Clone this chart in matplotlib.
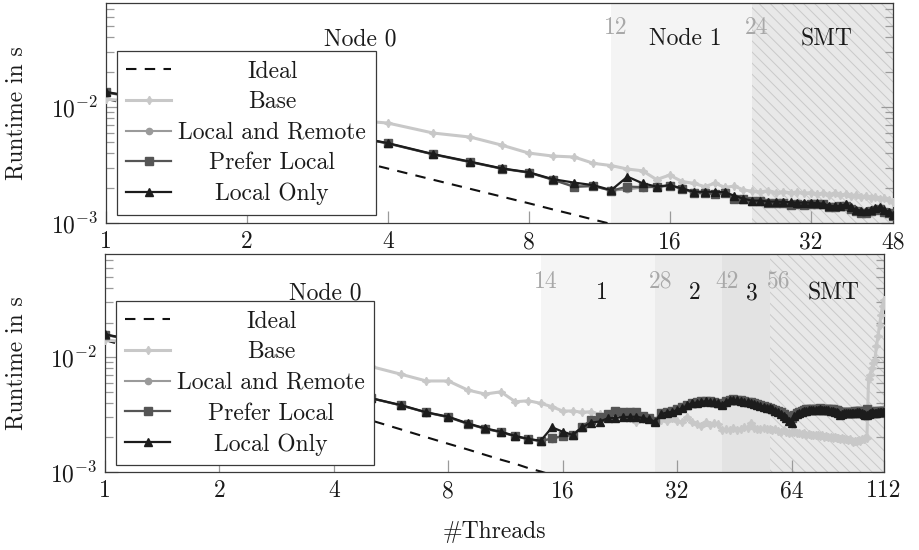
import matplotlib
matplotlib.use('Agg')
import matplotlib.pyplot as plt
from matplotlib.ticker import LogLocator, NullFormatter, NullLocator
import numpy as np

plt.rcParams['font.family'] = ['cmr10', 'DejaVu Serif']
plt.rcParams['mathtext.fontset'] = 'cm'
plt.rcParams['axes.formatter.use_mathtext'] = True
plt.rcParams['hatch.linewidth'] = 0.7
plt.rcParams['hatch.color'] = '#c8c8c8'
plt.rcParams['axes.unicode_minus'] = True

# ---------------- data (runtime in ms) ----------------
threads_top = list(range(1, 49))
threads_bottom = list(range(1, 113))

ideal_threads_top = list(range(1, 13))
ideal_top = [11.8, 5.9, 3.93, 2.95, 2.36, 1.97, 1.69, 1.48, 1.31, 1.18, 1.07, 0.98]
ideal_threads_bottom = list(range(1, 16))
ideal_bottom = [14.1, 7.05, 4.7, 3.53, 2.82, 2.35, 2.01, 1.76, 1.57, 1.41, 1.28, 1.18,
                1.08, 1.01, 0.94]

base_top = [11.7, 9.3, 8.0, 7.28, 5.97, 5.51, 4.70, 4.01, 3.78, 3.71, 3.27, 3.13,
            2.92, 2.82, 2.37, 2.59, 2.28, 2.20, 2.06, 2.20, 2.03, 2.08, 1.93, 1.88,
            1.85, 1.90, 1.83, 1.86, 1.82, 1.85, 1.80, 1.83, 1.78, 1.80, 1.76, 1.80,
            1.74, 1.77, 1.72, 1.75, 1.68, 1.72, 1.65, 1.68, 1.62, 1.63, 1.58, 1.53]
local_remote_top = [13.3, 8.3, 6.0, 4.86, 3.91, 3.36, 2.95, 2.73, 2.37, 2.08, 2.09, 1.90,
                    1.95, 2.02, 2.05, 2.10, 1.99, 1.84, 1.83, 1.80, 1.81, 1.65, 1.61, 1.55,
                    1.55, 1.52, 1.50, 1.51, 1.46, 1.48, 1.46, 1.48, 1.47, 1.46, 1.40, 1.39,
                    1.40, 1.42, 1.35, 1.28, 1.25, 1.25, 1.28, 1.32, 1.34, 1.27, 1.24, 1.17]
prefer_local_top = [13.4, 8.4, 6.1, 4.85, 3.90, 3.35, 2.94, 2.72, 2.36, 2.05, 2.08, 1.90,
                    2.06, 2.04, 2.05, 2.10, 1.98, 1.82, 1.80, 1.78, 1.80, 1.60, 1.60, 1.54,
                    1.55, 1.50, 1.48, 1.50, 1.42, 1.47, 1.43, 1.47, 1.46, 1.45, 1.38, 1.38,
                    1.39, 1.40, 1.33, 1.26, 1.22, 1.22, 1.27, 1.30, 1.32, 1.24, 1.22, 1.15]
local_only_top = [13.5, 8.4, 6.1, 4.89, 3.93, 3.38, 2.96, 2.74, 2.39, 2.23, 2.12, 1.92,
                  2.51, 2.20, 2.06, 2.12, 1.99, 1.86, 1.86, 1.86, 1.84, 1.72, 1.62, 1.56,
                  1.56, 1.53, 1.53, 1.52, 1.51, 1.50, 1.50, 1.50, 1.48, 1.47, 1.41, 1.40,
                  1.40, 1.45, 1.37, 1.30, 1.28, 1.27, 1.30, 1.34, 1.37, 1.30, 1.25, 1.17]

base_bottom = [14.1, 11.5, 10.0, 9.0, 8.3, 7.1, 6.2, 6.2, 5.17, 4.77, 4.99, 4.09, 4.17, 3.96,
               3.70, 3.39, 3.40, 3.31, 3.35, 3.17,
               3.10, 3.05, 3.13, 2.95, 2.74, 2.90, 2.87, 2.70,
               2.83, 2.78, 2.95, 2.80, 2.70, 3.00, 2.75, 2.60, 2.51, 2.70, 2.55, 2.65, 2.60, 2.32,
               2.35, 2.30, 2.40, 2.32, 2.38, 2.45, 2.40, 2.67, 2.40, 2.38, 2.35, 2.40, 2.36, 2.37,
               2.30, 2.35, 2.28, 2.25, 2.30, 2.24, 2.20, 2.25, 2.22, 2.18, 2.20, 2.15, 2.18, 2.12,
               2.15, 2.10, 2.12, 2.08, 2.10, 2.06, 2.08, 2.02, 2.05, 2.00, 2.03, 1.98, 2.00, 1.96,
               1.98, 1.94, 1.96, 1.92, 1.95, 1.90, 1.92, 1.88, 1.84, 1.88, 1.85, 1.90, 1.86, 1.92,
               1.94, 1.97,
               1.97, 6.5, 7.0, 8.0, 8.8, 9.4, 12.5, 15.2, 19.0, 23.2, 28.0, 31.3]
local_remote_bottom = [15.6, 9.9, 6.9, 5.35, 4.38, 3.80, 3.29, 3.00, 2.62, 2.38, 2.22, 2.04,
                       1.92, 1.86, 1.95, 2.04, 2.09, 2.46, 2.80, 3.00,
                       3.15, 3.35, 3.32, 3.30, 3.28, 3.08, 2.96, 2.78,
                       3.22, 3.30, 3.38, 3.50, 3.62, 3.82, 3.98, 4.06, 4.10, 4.13, 4.12, 4.08,
                       4.00, 3.90,
                       4.12, 4.22, 4.25, 4.22, 4.18, 4.12, 4.08, 4.00, 3.95, 3.88, 3.80, 3.73,
                       3.67, 3.61,
                       3.53, 3.45, 3.35, 3.27, 3.16, 3.05, 2.92, 2.85, 3.10, 3.24, 3.32, 3.38,
                       3.42, 3.46,
                       3.48, 3.50, 3.50, 3.52, 3.50, 3.54, 3.52, 3.50, 3.52, 3.50, 3.47, 3.45,
                       3.41, 3.39,
                       3.32, 3.22, 3.26, 3.30, 3.31, 3.30, 3.31, 3.30, 3.29, 3.33, 3.35, 3.37,
                       3.33, 3.30, 3.26, 3.22,
                       3.40, 3.25, 3.30, 3.34, 3.32, 3.30, 3.32, 3.34, 3.36, 3.34, 3.37, 3.38]
prefer_local_bottom = [15.7, 10.0, 7.0, 5.4, 4.4, 3.80, 3.30, 3.00, 2.63, 2.38, 2.22, 2.05,
                       1.93, 1.86, 1.96, 2.06, 2.10, 2.48, 2.83, 3.03,
                       3.18, 3.39, 3.35, 3.32, 3.30, 3.10, 2.98, 2.80,
                       3.25, 3.32, 3.40, 3.52, 3.65, 3.85, 4.00, 4.08, 4.12, 4.15, 4.14, 4.10,
                       4.02, 3.92,
                       4.15, 4.25, 4.28, 4.25, 4.20, 4.14, 4.10, 4.03, 3.97, 3.90, 3.83, 3.76,
                       3.70, 3.64,
                       3.56, 3.48, 3.38, 3.30, 3.20, 3.10, 3.00, 2.95, 3.15, 3.28, 3.35, 3.42,
                       3.46, 3.50,
                       3.52, 3.55, 3.54, 3.56, 3.55, 3.58, 3.56, 3.54, 3.56, 3.55, 3.52, 3.50,
                       3.46, 3.44,
                       3.38, 3.30, 3.32, 3.35, 3.36, 3.35, 3.36, 3.35, 3.34, 3.38, 3.40, 3.42,
                       3.38, 3.35, 3.32, 3.30,
                       3.50, 3.30, 3.34, 3.38, 3.36, 3.34, 3.36, 3.38, 3.40, 3.38, 3.40, 3.42]
local_only_bottom = [15.8, 10.0, 7.0, 5.4, 4.4, 3.83, 3.31, 3.03, 2.65, 2.40, 2.24, 2.06,
                     1.94, 1.87, 2.45, 2.24, 2.10, 2.45, 2.69, 2.75,
                     2.93, 2.96, 3.00, 3.02, 3.03, 2.95, 2.88, 2.74,
                     3.20, 3.28, 3.34, 3.46, 3.58, 3.80, 3.96, 4.02, 4.09, 4.12, 4.10, 4.05,
                     3.98, 3.85,
                     4.10, 4.20, 4.23, 4.20, 4.15, 4.09, 4.05, 3.98, 3.92, 3.85, 3.78, 3.70,
                     3.64, 3.58,
                     3.50, 3.40, 3.30, 3.22, 3.10, 2.98, 2.80, 2.66, 3.05, 3.20, 3.28, 3.34,
                     3.38, 3.42,
                     3.44, 3.46, 3.45, 3.48, 3.46, 3.50, 3.47, 3.45, 3.48, 3.46, 3.42, 3.40,
                     3.36, 3.34,
                     3.25, 3.13, 3.20, 3.25, 3.26, 3.24, 3.26, 3.25, 3.24, 3.28, 3.30, 3.32,
                     3.28, 3.25, 3.20, 3.15,
                     3.13, 3.20, 3.26, 3.30, 3.28, 3.25, 3.28, 3.30, 3.32, 3.30, 3.33, 3.34]

top_xticks = [1, 2, 4, 8, 16, 32, 48]
bottom_xticks = [1, 2, 4, 8, 16, 32, 64, 112]

top_regions = [12, 24, 48]
bottom_regions = [14, 28, 42, 56, 112]

series_labels = ['Ideal', 'Base', 'Local and Remote', 'Prefer Local', 'Local Only']

# ---------------- figure ----------------
W, H = 919, 550
fig = plt.figure(figsize=(W / 100, H / 100), dpi=100)
ax1 = fig.add_axes([106 / W, 1 - 223 / H, (893 - 106) / W, 220 / H])
ax2 = fig.add_axes([105 / W, 1 - 472 / H, (884 - 105) / W, 218 / H])

FS = 17
TXT = '#1a1a1a'
GREYTXT = '#a8a8a8'


def style(ax, xmax, ticks):
    ax.set_xscale('log', base=2)
    ax.set_yscale('log')
    ax.set_xlim(1, xmax)
    ax.set_ylim(1e-3, 0.079)
    ax.set_xticks(ticks, [str(t) for t in ticks])
    ax.xaxis.set_minor_locator(NullLocator())
    ax.yaxis.set_major_locator(LogLocator(base=10, numticks=10))
    ax.yaxis.set_minor_locator(LogLocator(base=10, subs=np.arange(2, 10), numticks=20))
    ax.yaxis.set_minor_formatter(NullFormatter())
    ax.tick_params(which='both', direction='in', color='#9a9a9a', right=True, top=False,
                   labelsize=FS, labelcolor=TXT, width=0.9)
    ax.tick_params(axis='x', which='major', length=9, pad=6)
    ax.tick_params(axis='y', which='major', length=9, pad=6)
    ax.tick_params(axis='y', which='minor', length=6)
    for s in ax.spines.values():
        s.set_color('#3a3a3a')
        s.set_linewidth(0.9)
    ax.set_ylabel('Runtime in s', fontsize=FS, color=TXT)
    ax.yaxis.set_label_coords(-0.100, 0.5)


def plot_series(ax, th, ith, ideal, base, lr, pl, lo):
    s = 1000.0
    h = []
    h += ax.plot(ith, np.array(ideal) / s, color='#111111', lw=1.5, ls=(0, (5, 4)),
                 label=series_labels[0], zorder=3)
    h += ax.plot(th, np.array(base) / s, color='#c8c8c8', lw=2.2, marker=(4, 1, 0),
                 ms=6, mec='#c8c8c8', mfc='#c8c8c8', label=series_labels[1], zorder=3)
    h += ax.plot(th, np.array(lr) / s, color='#9a9a9a', lw=1.5, marker='o', ms=4.5,
                 mec='#9a9a9a', mfc='#9a9a9a', label=series_labels[2], zorder=4)
    h += ax.plot(th, np.array(pl) / s, color='#555555', lw=1.6, marker='s', ms=5.5,
                 mec='#555555', mfc='#555555', label=series_labels[3], zorder=5)
    h += ax.plot(th, np.array(lo) / s, color='#1c1c1c', lw=1.6, marker='^', ms=5.5,
                 mec='#1c1c1c', mfc='#1c1c1c', label=series_labels[4], zorder=6)
    return h


def shade(ax, bounds, colors):
    n = len(bounds) - 1
    for i in range(n):
        a, b = bounds[i], bounds[i + 1]
        if i == n - 1:
            ax.axvspan(a, b, facecolor='#e8e8e8', edgecolor='#c9c9c9', hatch='\\\\\\',
                       lw=0, zorder=0)
        else:
            ax.axvspan(a, b, facecolor=colors[i], lw=0, zorder=0)


style(ax1, 48, top_xticks)
style(ax2, 112, bottom_xticks)

shade(ax1, top_regions, ['#f4f4f4'])
shade(ax2, bottom_regions, ['#f5f5f5', '#ececec', '#e3e3e3'])

h1 = plot_series(ax1, threads_top, ideal_threads_top, ideal_top, base_top,
                 local_remote_top, prefer_local_top, local_only_top)
h2 = plot_series(ax2, threads_bottom, ideal_threads_bottom, ideal_bottom, base_bottom,
                 local_remote_bottom, prefer_local_bottom, local_only_bottom)

# region labels
t1 = ax1.get_xaxis_transform()
ax1.text(3.49, 0.836, 'Node 0', transform=t1, ha='center', va='center', fontsize=FS, color=TXT)
ax1.text(12.27, 0.886, '12', transform=t1, ha='center', va='center', fontsize=FS, color=GREYTXT)
ax1.text(17.3, 0.836, 'Node 1', transform=t1, ha='center', va='center', fontsize=FS, color=TXT)
ax1.text(24.5, 0.886, '24', transform=t1, ha='center', va='center', fontsize=FS, color=GREYTXT)
ax1.text(34.6, 0.836, 'SMT', transform=t1, ha='center', va='center', fontsize=FS, color=TXT)

t2 = ax2.get_xaxis_transform()
ax2.text(3.79, 0.821, 'Node 0', transform=t2, ha='center', va='center', fontsize=FS, color=TXT)
for xv, s in [(14.4, '14'), (29.0, '28'), (43.3, '42'), (59.0, '56')]:
    ax2.text(xv, 0.872, s, transform=t2, ha='center', va='center', fontsize=FS, color=GREYTXT)
for xv, s in [(20.3, '1'), (35.5, '2'), (50.4, '3'), (82.4, 'SMT')]:
    ax2.text(xv, 0.821, s, transform=t2, ha='center', va='center', fontsize=FS, color=TXT)

ax2.set_xlabel('#Threads', fontsize=FS, color=TXT)
ax2.xaxis.set_label_coords(0.5, -0.225)

legs = []
for ax, h, anchor in [(ax1, h1, (0.014, 0.782)), (ax2, h2, (0.014, 0.784))]:
    leg = ax.legend(handles=h, loc='upper left', bbox_to_anchor=anchor, borderaxespad=0,
                    fontsize=FS, frameon=True, fancybox=False, framealpha=1,
                    edgecolor='#3a3a3a', handlelength=1.9, handletextpad=0.3,
                    labelspacing=0.36, borderpad=0.4)
    leg.get_frame().set_linewidth(0.9)
    leg.set_zorder(10)
    legs.append(leg)

# center legend labels like the original
fig.canvas.draw()
renderer = fig.canvas.get_renderer()
for leg in legs:
    texts = leg.get_texts()
    bbs = [t.get_window_extent(renderer) for t in texts]
    widest = max(bbs, key=lambda b: b.width)
    cx = (widest.x0 + widest.x1) / 2
    for t, bb in zip(texts, bbs):
        fig.text(cx / W, ((bb.y0 + bb.y1) / 2) / H, t.get_text(), ha='center', va='center',
                 fontsize=FS, color=TXT, zorder=20)
        t.set_visible(False)

fig.savefig('out.png', dpi=100)
